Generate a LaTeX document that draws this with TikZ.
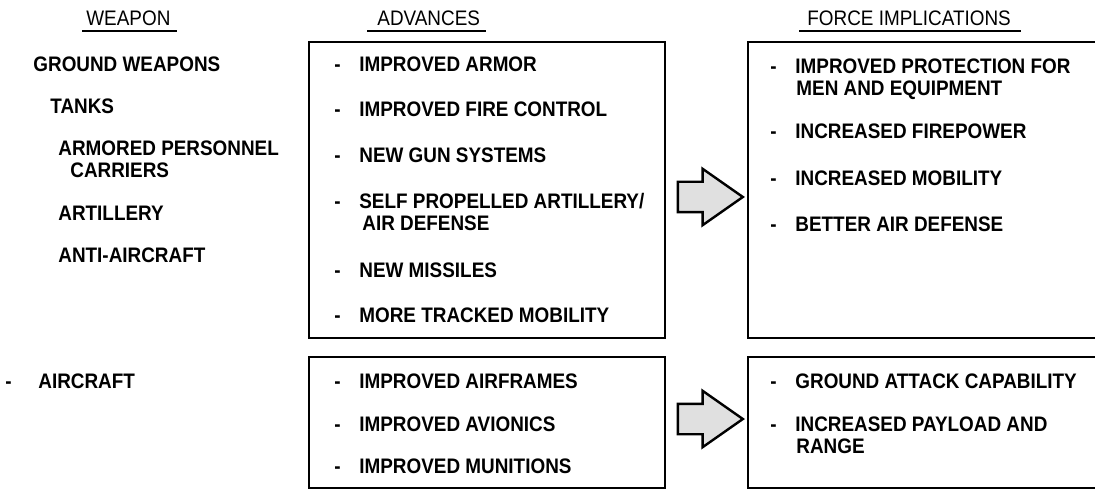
\documentclass[tikz,border=0pt]{standalone}
\usepackage{fontspec}
\setmainfont{Liberation Sans}[FakeStretch=0.9]
\usetikzlibrary{positioning,fit,shapes.arrows}
\newcommand\dashitem{\makebox[12.5pt][l]{-}}
\tikzset{
  font=\bfseries\fontsize{10.5}{11}\selectfont,
  item/.style ={anchor=north west, align=left, inner sep=0pt},
  head/.style ={anchor=base west, inner sep=0pt, font=\mdseries\fontsize{10.5}{11}\selectfont},
  box/.style  ={draw, line width=1.4pt, inner sep=0pt},
  uline/.style={line width=0.9pt},
  bigarrow/.style={single arrow, draw, line width=1.2pt, fill=black!12,
    single arrow tip angle=70, single arrow head extend=6.5pt,
    minimum height=32.5pt, inner xsep=0pt, inner ysep=7pt},
}

\begin{document}
\begin{tikzpicture}[x=0.5pt, y=-0.5pt]
  \useasboundingbox (0,0) rectangle (1095,491);
  % headers
  \node[head] (hweapon) at (86,26)  {WEAPON};
  \node[head] (hadv)    at (377,26) {ADVANCES};
  \node[head] (hforce)  at (807,26) {FORCE IMPLICATIONS};
  \draw[uline] ([xshift=-2pt,yshift=-2.5pt]hweapon.base west) -- ([xshift=3pt,yshift=-2.5pt]hweapon.base east);
  \draw[uline] ([xshift=-5pt,yshift=-2.5pt]hadv.base west) -- ([xshift=3pt,yshift=-2.5pt]hadv.base east);
  \draw[uline] ([xshift=-4pt,yshift=-2.5pt]hforce.base west) -- ([xshift=5pt,yshift=-2.5pt]hforce.base east);

  % boxes
  \node[box, fit={(309,42) (665,338)}]  (advground) {};
  \node[box, fit={(748,42) (1100,338)}] (forceground) {};
  \node[box, fit={(309,357) (665,488)}] (advair) {};
  \node[box, fit={(748,357) (1100,488)}] (forceair) {};

  % weapons
  \node[item] (wground) at (33,56.5)  {GROUND WEAPONS};
  \node[item] (wtanks)  at (50,98.5)  {TANKS};
  \node[item] (wapc)    at (58,140.5) {ARMORED PERSONNEL\\\hspace*{6pt}CARRIERS};
  \node[item] (wart)    at (58,205.5) {ARTILLERY};
  \node[item] (waa)     at (58,247.5) {ANTI-AIRCRAFT};
  \node[item] (wair)    at (5,373.5)  {\makebox[16.5pt][l]{-}AIRCRAFT};

  % advances, ground weapons
  \node[item] (aarmor)   at (334,56.5)  {\dashitem IMPROVED ARMOR};
  \node[item] (afire)    at (334,101.5) {\dashitem IMPROVED FIRE CONTROL};
  \node[item] (agun)     at (334,147.5) {\dashitem NEW GUN SYSTEMS};
  \node[item] (aspa)     at (334,192.5) {\dashitem SELF PROPELLED ARTILLERY/\\\hspace*{14pt}AIR DEFENSE};
  \node[item] (amiss)    at (334,262.5) {\dashitem NEW MISSILES};
  \node[item] (atrack)   at (334,307.5) {\dashitem MORE TRACKED MOBILITY};
  % advances, aircraft
  \node[item] (aframe)   at (334,373.5) {\dashitem IMPROVED AIRFRAMES};
  \node[item] (aavion)   at (334,416.5) {\dashitem IMPROVED AVIONICS};
  \node[item] (amunit)   at (334,458.5) {\dashitem IMPROVED MUNITIONS};

  % force implications
  \node[item] (fprot)    at (770,58.5)  {\dashitem IMPROVED PROTECTION FOR\\\hspace*{13pt}MEN AND EQUIPMENT};
  \node[item] (ffire)    at (770,123.5) {\dashitem INCREASED FIREPOWER};
  \node[item] (fmob)     at (770,170.5) {\dashitem INCREASED MOBILITY};
  \node[item] (fad)      at (770,216.5) {\dashitem BETTER AIR DEFENSE};
  \node[item] (fattack)  at (770,373.5) {\dashitem GROUND ATTACK CAPABILITY};
  \node[item] (fpay)     at (770,416.5) {\dashitem INCREASED PAYLOAD AND\\\hspace*{13pt}RANGE};

  % arrows
  \node[bigarrow] (arrground) at (699.5,197) {};
  \node[bigarrow] (arrair)    at (699.5,419) {};
\end{tikzpicture}
\end{document}
